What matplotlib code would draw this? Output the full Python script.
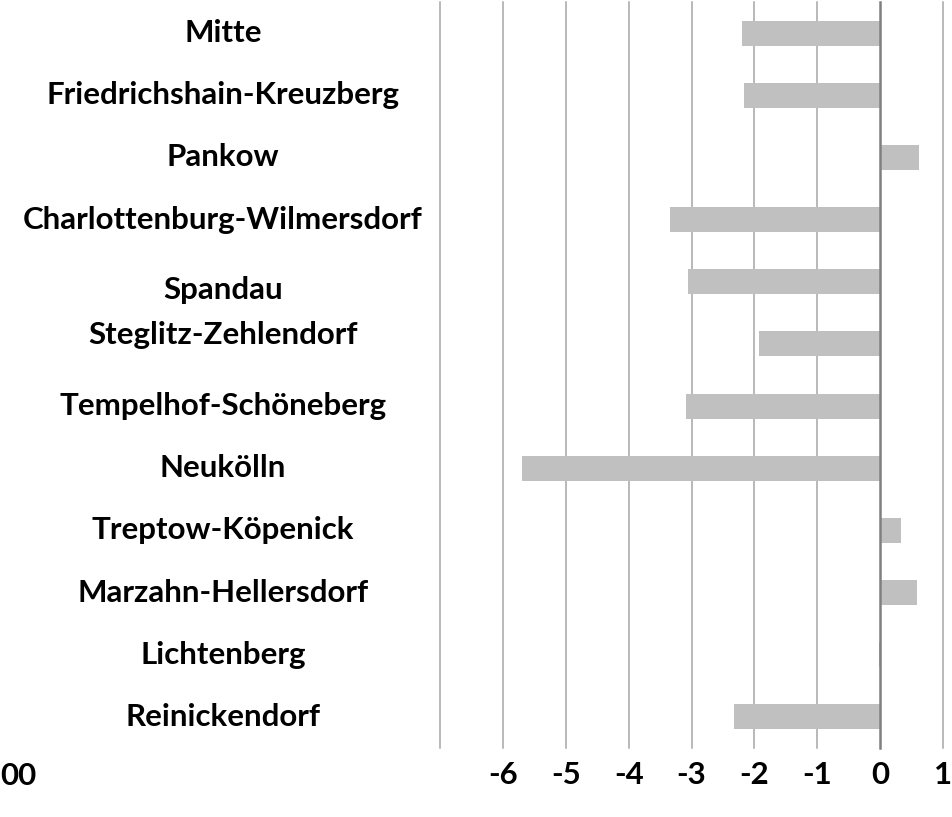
import matplotlib
matplotlib.use("Agg")
import matplotlib.pyplot as plt
import matplotlib.transforms as mtransforms

districts = ["Mitte", "Friedrichshain-Kreuzberg", "Pankow", "Charlottenburg-Wilmersdorf",
             "Spandau", "Steglitz-Zehlendorf", "Tempelhof-Schöneberg", "Neukölln",
             "Treptow-Köpenick", "Marzahn-Hellersdorf", "Lichtenberg", "Reinickendorf"]
values = [-2.19, -2.17, 0.62, -3.34, -3.05, -1.93, -3.08, -5.69, 0.33, 0.58, -0.02, -2.33]
tick_values = [-6, -5, -4, -3, -2, -1, 0, 1]
grid_values = [-7, -6, -5, -4, -3, -2, -1, 1]

plt.rcParams['font.family'] = ['Lato', 'DejaVu Sans']

W, H = 952, 817
FS = 22.5
fig = plt.figure(figsize=(W / 100, H / 100), dpi=100)
ax = fig.add_axes([440 / W, 69 / H, (943 - 440) / W, (H - 2 - 69) / H])

ypos = list(range(len(districts)))
for g in grid_values:
    ax.axvline(g, color="#a6a6a6", lw=1.1, zorder=0, clip_on=False)
ax.barh(ypos, values, height=0.4, color="#c0c0c0", zorder=2)
ax.axvline(0, color="#7f7f7f", lw=1.8, zorder=3, clip_on=False)

ax.set_xlim(-7, 1)
ax.set_ylim(len(districts) - 0.5, -0.5)
ax.set_xticks(tick_values)
ax.set_xticklabels([str(t) for t in tick_values], fontsize=FS, fontweight="bold")
ax.tick_params(axis="x", length=0, pad=9)
ax.set_yticks([])
for s in ax.spines.values():
    s.set_visible(False)

# small vertical nudges of two labels, as in the original layout (pixels)
label_nudge = {"Spandau": 8, "Steglitz-Zehlendorf": -9}
trans = mtransforms.blended_transform_factory(fig.transFigure, ax.transData)
for y, name in zip(ypos, districts):
    t = fig.text(223 / W, y, name, transform=trans, ha="center", va="center",
                 fontsize=FS, fontweight="bold")
    if name in label_nudge:
        t.set_transform(trans + mtransforms.Affine2D().translate(0, -label_nudge[name]))

fig.text(0, 1 - 776 / H, "00", ha="left", va="center", fontsize=FS, fontweight="bold")

fig.savefig("out.png", dpi=100, facecolor="white")
